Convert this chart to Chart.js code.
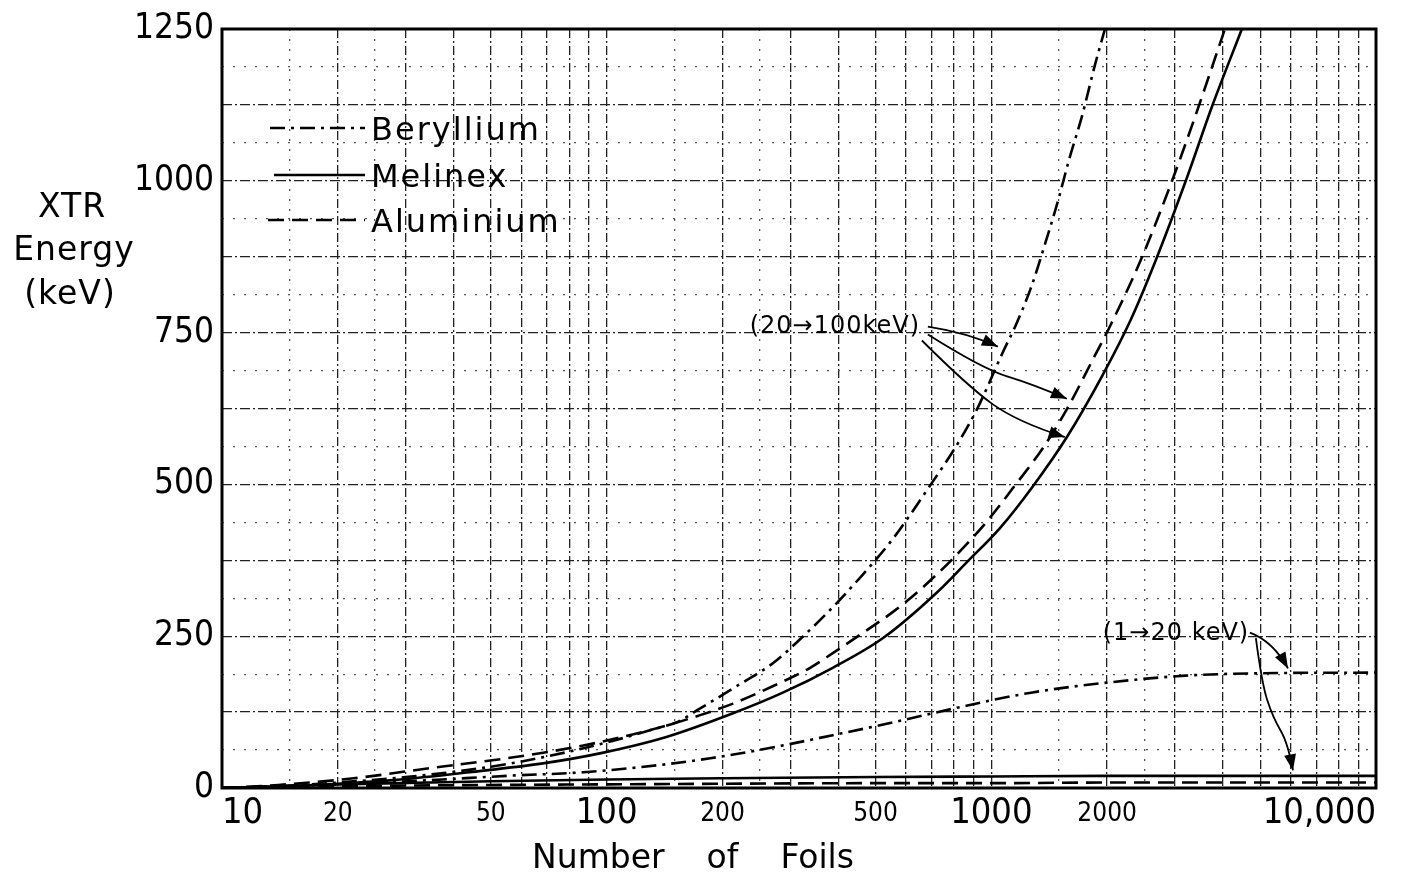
<!DOCTYPE html>
<html lang="en">
<head>
<meta charset="utf-8">
<title>XTR Energy vs Number of Foils</title>
<script src="https://cdn.jsdelivr.net/npm/chart.js@4.4.0/dist/chart.umd.min.js"></script>
<style>
  html, body { margin: 0; padding: 0; background: #fff; }
  #wrap { width: 1403px; height: 877px; }
</style>
</head>
<body>
<div id="wrap"><canvas id="xtrChart" width="1403" height="877"></canvas></div>
<script>
// values: number of foils -> XTR energy (keV)
// 20 -> 100 keV band
const beHighFoils = [10, 15, 20, 30, 50, 70, 100, 138, 152, 175, 213, 271, 332, 397, 464, 551, 705, 814, 918, 1072, 1159, 1268, 1370, 1489, 1591, 1720, 1858, 1974];
const beHighKeV   = [0, 4, 9, 18, 35, 52, 75, 100, 108, 131, 164, 206, 256, 305, 352, 408, 505, 565, 624, 718, 763, 824, 890, 966, 1034, 1106, 1190, 1250];

const melHighFoils = [10, 15, 20, 28, 44, 69, 96, 143, 213, 287, 387, 523, 722, 864, 1053, 1283, 1572, 1939, 2307, 2679, 3224, 3745, 4481];
const melHighKeV   = [0, 3, 7, 13, 26, 41, 57, 84, 123, 157, 198, 247, 322, 372, 428, 497, 578, 678, 772, 870, 1005, 1122, 1250];

const alHighFoils = [10, 14, 22, 35, 55, 87, 138, 175, 213, 271, 338, 387, 475, 555, 641, 795, 974, 1138, 1362, 1572, 1858, 2033, 2448, 2930, 3362, 4048];
const alHighKeV   = [0, 5, 16, 33, 49, 70, 100, 120, 139, 168, 198, 222, 260, 290, 322, 378, 439, 494, 560, 624, 712, 760, 870, 995, 1100, 1250];

// 1 -> 20 keV band
const beLowFoils = [10, 20, 35, 55, 87, 138, 186, 261, 387, 555, 799, 1268, 2030, 3190, 5040, 10000];
const beLowKeV   = [0, 6, 13, 20, 26, 38, 49, 65, 87, 108, 131, 157, 174, 185, 189, 190];

const lowFoils  = [10, 20, 50, 100, 200, 500, 1000, 2000, 5000, 10000];
const melLowKeV = [0, 6, 11, 14, 16, 18, 19, 20, 20, 20];
const alLowKeV  = [0, 3, 5, 6, 7, 8, 8, 9, 9, 9];

// axes
const xTicks = [10, 15, 20, 25, 30, 40, 50, 60, 70, 80, 90, 100, 150, 200, 250, 300, 400, 500, 600, 700, 800, 900,
                1000, 1500, 2000, 2500, 3000, 4000, 5000, 6000, 7000, 8000, 9000, 10000];
const xMinorTicks = [15, 25, 150, 250, 1500, 2500];
const xLabels = {10: '10', 20: '20', 50: '50', 100: '100', 200: '200', 500: '500', 1000: '1000', 2000: '2000', 10000: '10,000'};
const xBigLabels = [10, 100, 1000, 10000];
const yStep = 62.5;
const yLabelStep = 250;

// annotation anchors, in data units [foils, keV]
const bandHighText = '(20\u2192100keV)';
const bandHighAt = [392, 749];
const bandLowText = '(1\u219220 keV)';
const bandLowAt = [3020, 244];
const arrows = [
  [[684, 760], [864, 750], [1040, 727]],
  [[684, 747], [951, 690], [1282, 665], [1572, 641]],
  [[660, 737], [864, 663], [1165, 603], [1552, 578]],
  [[4700, 256], [5395, 242], [5904, 197]],
  [[4872, 247], [5050, 172], [5395, 116], [5904, 74], [6082, 29]]
];

const NUM_FONT = '"DejaVu Sans Condensed", "DejaVu Sans", sans-serif';
const TXT_FONT = '"DejaVu Sans", sans-serif';

const DASHDOT = [15, 6, 3, 6];
const DASHED = [16, 8];

function pts(xs, ys) { return xs.map((v, i) => ({x: v, y: ys[i]})); }

function line(label, xs, ys, dash) {
  return {
    label: label,
    data: pts(xs, ys),
    borderColor: '#000',
    borderWidth: 2.6,
    borderDash: dash,
    pointRadius: 0,
    fill: false,
    cubicInterpolationMode: 'monotone'
  };
}

function drawArrow(ctx, p) {
  const n = p.length - 1;
  ctx.beginPath();
  ctx.moveTo(p[0][0], p[0][1]);
  if (n === 1) {
    ctx.lineTo(p[1][0], p[1][1]);
  } else {
    for (let i = 1; i < n - 1; i++) {
      ctx.quadraticCurveTo(p[i][0], p[i][1], (p[i][0] + p[i + 1][0]) / 2, (p[i][1] + p[i + 1][1]) / 2);
    }
    ctx.quadraticCurveTo(p[n - 1][0], p[n - 1][1], p[n][0], p[n][1]);
  }
  ctx.stroke();
  // head
  const a = Math.atan2(p[n][1] - p[n - 1][1], p[n][0] - p[n - 1][0]);
  const L = 16, W = 6;
  const tx = p[n][0], ty = p[n][1];
  ctx.beginPath();
  ctx.moveTo(tx, ty);
  ctx.lineTo(tx - L * Math.cos(a) + W * Math.sin(a), ty - L * Math.sin(a) - W * Math.cos(a));
  ctx.lineTo(tx - L * Math.cos(a) - W * Math.sin(a), ty - L * Math.sin(a) + W * Math.cos(a));
  ctx.closePath();
  ctx.fill();
}

const whiteBg = {
  id: 'whiteBg',
  beforeDraw(chart) {
    const ctx = chart.ctx;
    ctx.save();
    ctx.fillStyle = '#fff';
    ctx.fillRect(0, 0, chart.width, chart.height);
    ctx.restore();
  }
};

const notes = {
  id: 'notes',
  afterDraw(chart) {
    const {ctx, chartArea: a, scales: {x, y}} = chart;
    const toPx = d => [x.getPixelForValue(d[0]), y.getPixelForValue(d[1])];
    ctx.save();

    // plot frame
    ctx.strokeStyle = '#000';
    ctx.lineWidth = 3;
    ctx.setLineDash([]);
    ctx.strokeRect(a.left, a.top, a.right - a.left, a.bottom - a.top);

    ctx.fillStyle = '#000';
    ctx.textBaseline = 'alphabetic';

    // y title
    ctx.font = '33px ' + TXT_FONT;
    ctx.letterSpacing = '1px';
    ctx.textAlign = 'center';
    ctx.fillText('XTR', 72, 217);
    ctx.fillText('Energy', 74, 260);
    ctx.fillText('(keV)', 70, 304);

    // x title
    ctx.font = '33px ' + TXT_FONT;
    ctx.letterSpacing = '0px';
    ctx.fillText('Number    of    Foils', 693, 868);

    // legend
    const legend = [
      ['Beryllium', DASHDOT, 140, 270],
      ['Melinex', [], 187, 274],
      ['Aluminium', DASHED, 232, 268]
    ];
    ctx.lineWidth = 2.6;
    ctx.font = '32px ' + TXT_FONT;
    ctx.letterSpacing = '2px';
    ctx.textAlign = 'left';
    legend.forEach(([name, dash, base, x0]) => {
      ctx.setLineDash(dash);
      ctx.beginPath();
      ctx.moveTo(x0, base - 12);
      ctx.lineTo(365, base - 12);
      ctx.stroke();
      ctx.fillText(name, 371, base);
    });

    // band labels and arrows
    ctx.setLineDash([]);
    ctx.font = '24px ' + TXT_FONT;
    ctx.letterSpacing = '1px';
    ctx.textAlign = 'center';
    let p = toPx(bandHighAt);
    ctx.fillText(bandHighText, p[0], p[1]);
    p = toPx(bandLowAt);
    ctx.fillText(bandLowText, p[0], p[1]);

    ctx.lineWidth = 1.8;
    arrows.forEach(arr => drawArrow(ctx, arr.map(toPx)));
    ctx.restore();
  }
};

const ctx = document.getElementById('xtrChart').getContext('2d');
const chart = new Chart(ctx, {
  type: 'line',
  data: {
    datasets: [
      line('Beryllium (20-100 keV)', beHighFoils, beHighKeV, DASHDOT),
      line('Melinex (20-100 keV)', melHighFoils, melHighKeV, []),
      line('Aluminium (20-100 keV)', alHighFoils, alHighKeV, DASHED),
      line('Beryllium (1-20 keV)', beLowFoils, beLowKeV, DASHDOT),
      line('Melinex (1-20 keV)', lowFoils, melLowKeV, []),
      line('Aluminium (1-20 keV)', lowFoils, alLowKeV, DASHED)
    ]
  },
  options: {
    responsive: false,
    animation: false,
    events: [],
    layout: { padding: { left: 0, right: 27, top: 25, bottom: 0 } },
    plugins: {
      legend: { display: false },
      tooltip: { enabled: false }
    },
    scales: {
      x: {
        type: 'logarithmic',
        min: 10,
        max: 10000,
        afterBuildTicks: s => { s.ticks = xTicks.map(v => ({value: v})); },
        afterFit: s => { s.height = 89; },
        border: {
          display: false,
          dash: c => (c.tick && xMinorTicks.includes(c.tick.value)) ? [2, 8] : [9, 3, 2, 3]
        },
        grid: {
          drawTicks: false,
          color: c => (c.tick && xMinorTicks.includes(c.tick.value)) ? '#555' : '#222',
          lineWidth: 1.3
        },
        ticks: {
          autoSkip: false,
          maxRotation: 0,
          align: 'inner',
          padding: 6,
          color: '#000',
          callback: v => xLabels[v] || '',
          font: c => (c.tick && xBigLabels.includes(c.tick.value))
            ? {family: NUM_FONT, size: 36, lineHeight: 1.1}
            : {family: NUM_FONT, size: 26, lineHeight: 1.523}
        }
      },
      y: {
        type: 'linear',
        min: 0,
        max: 1250,
        afterFit: s => { s.width = 222; },
        border: {
          display: false,
          dash: c => (c.tick && c.tick.value % 125 !== 0) ? [2, 9] : [10, 3, 2, 3]
        },
        grid: {
          drawTicks: false,
          color: c => (c.tick && c.tick.value % 125 !== 0) ? '#555' : '#222',
          lineWidth: 1.3
        },
        ticks: {
          stepSize: yStep,
          autoSkip: false,
          padding: 8,
          color: '#000',
          callback: v => (v % yLabelStep === 0) ? String(v) : '',
          font: {family: NUM_FONT, size: 35, lineHeight: 1.2}
        }
      }
    }
  },
  plugins: [whiteBg, notes]
});
</script>
</body>
</html>
